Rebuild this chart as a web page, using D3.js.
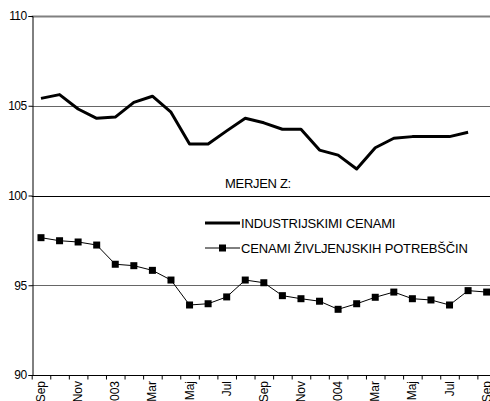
<!DOCTYPE html>
<html lang="sl">
	<head>
		<meta charset="utf-8">
		<title>Merjen z</title>
		<script src="https://d3js.org/d3.v7.min.js"></script>
		<style type="text/css">
			body, html {
				margin: 0;
				padding: 0;
				background: #fff;
			}
			text {
				font-family: "Liberation Sans", Arial, sans-serif;
				fill: #000;
			}
		</style>
	</head>
	<body>
		<div id="chart"></div>
		<script type="text/javascript">

		// months Sep 2002 .. Sep 2004
		var months = ["Sep", "Okt", "Nov", "Dec", "2003", "Feb", "Mar", "Apr", "Maj", "Jun", "Jul", "Avg",
			"Sep", "Okt", "Nov", "Dec", "2004", "Feb", "Mar", "Apr", "Maj", "Jun", "Jul", "Avg", "Sep"]

		var industrial = [105.41, 105.62, 104.82, 104.30, 104.37, 105.19, 105.53, 104.64, 102.87, 102.87, 103.60, 104.30,
			104.05, 103.69, 103.69, 102.53, 102.25, 101.48, 102.66, 103.19, 103.28, 103.28, 103.28, 103.52]

		var consumer = [97.65, 97.48, 97.41, 97.24, 96.17, 96.09, 95.83, 95.29, 93.90, 93.97, 94.35, 95.29,
			95.14, 94.42, 94.25, 94.11, 93.66, 93.97, 94.33, 94.62, 94.25, 94.18, 93.90, 94.70, 94.62]

		var yTicks = [90, 95, 100, 105, 110]
		var seriesNames = ["INDUSTRIJSKIMI CENAMI", "CENAMI ŽIVLJENJSKIH POTREBŠČIN"]
		var legendTitle = "MERJEN Z:"

		var width = 490, height = 401
		var margin = {top: 16, left: 31.7, bottom: 375}
		var band = 18.57

		var svg = d3.select("#chart").append("svg")
			.attr("width", width)
			.attr("height", height)

		var x = d3.scaleLinear()
			.domain([0, months.length])
			.range([margin.left, margin.left + months.length * band])
		var y = d3.scaleLinear()
			.domain([90, 110])
			.range([margin.bottom, margin.top])

		// gridlines
		var gridStyle = {110: ["#808080", 2], 105: ["#666", 1], 100: ["#000", 1], 95: ["#666", 1]}
		yTicks.filter(d => d > 90).forEach(d => {
			svg.append("line")
				.attr("x1", margin.left)
				.attr("x2", width)
				.attr("y1", Math.round(y(d)) + 0.5)
				.attr("y2", Math.round(y(d)) + 0.5)
				.attr("stroke", gridStyle[d][0])
				.attr("stroke-width", gridStyle[d][1])
		})

		// y axis
		var yAxis = svg.append("g")
			.attr("transform", "translate(" + (Math.round(margin.left) + 0.5) + ",0)")
			.call(d3.axisLeft(y).tickValues(yTicks).tickSize(4).tickPadding(2))
		yAxis.select(".domain").attr("stroke", "#000")
		yAxis.selectAll("line").attr("stroke", "#000")
		yAxis.selectAll("text")
			.attr("font-family", "'Liberation Sans Narrow', 'Liberation Sans', sans-serif")
			.attr("font-size", 12)
			.attr("letter-spacing", -0.6)

		// x axis
		var xAxis = svg.append("g")
			.attr("transform", "translate(0," + (Math.round(margin.bottom) + 0.5) + ")")
			.call(d3.axisBottom(x).tickValues(d3.range(0, months.length + 1)).tickSize(4).tickFormat(""))
		xAxis.select(".domain").attr("stroke", "#000").attr("d", "M" + margin.left + ",0H" + width)
		xAxis.selectAll("line").attr("stroke", "#000")

		months.forEach((m, i) => {
			if (i % 2 !== 0) return
			svg.append("text")
				.text(m)
				.attr("font-size", 12)
				.attr("text-anchor", "end")
				.attr("dominant-baseline", "central")
				.attr("transform", "translate(" + x(i + 0.5) + "," + 381 + ") rotate(-90)")
		})

		var line = d3.line()
			.x((d, i) => x(i + 0.5))
			.y(d => y(d))

		svg.append("path")
			.attr("d", line(industrial))
			.attr("fill", "none")
			.attr("stroke", "#000")
			.attr("stroke-width", 3)
			.attr("stroke-linejoin", "round")

		svg.append("path")
			.attr("d", line(consumer))
			.attr("fill", "none")
			.attr("stroke", "#000")
			.attr("stroke-width", 1)

		svg.selectAll("rect.mark")
			.data(consumer)
			.enter().append("rect")
			.attr("class", "mark")
			.attr("x", (d, i) => x(i + 0.5) - 3.5)
			.attr("y", d => y(d) - 3.5)
			.attr("width", 7)
			.attr("height", 7)
			.attr("fill", "#000")

		// legend
		svg.append("text")
			.text(legendTitle)
			.attr("x", 225)
			.attr("y", 183)
			.attr("dominant-baseline", "central")
			.attr("font-size", 13)
			.attr("letter-spacing", -0.3)

		seriesNames.forEach((name, i) => {
			var ly = 223 + i * 25
			svg.append("line")
				.attr("x1", 205)
				.attr("x2", 240)
				.attr("y1", ly)
				.attr("y2", ly)
				.attr("stroke", "#000")
				.attr("stroke-width", i === 0 ? 3 : 1)
			if (i === 1) {
				svg.append("rect")
					.attr("x", 222.5 - 3.5)
					.attr("y", ly - 3.5)
					.attr("width", 7)
					.attr("height", 7)
					.attr("fill", "#000")
			}
			svg.append("text")
				.text(name)
				.attr("x", 241)
				.attr("y", ly)
				.attr("dominant-baseline", "central")
				.attr("font-size", 13)
				.attr("letter-spacing", -0.15)
		})

		</script>
	</body>
</html>
